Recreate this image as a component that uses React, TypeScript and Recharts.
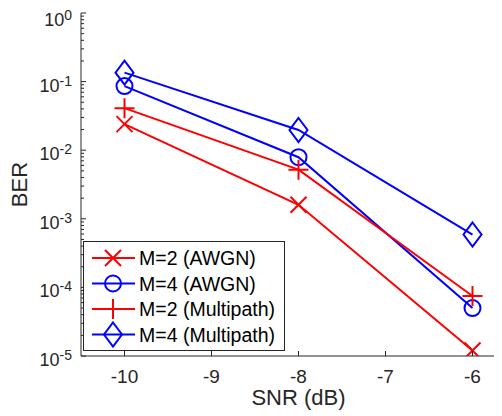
import React from 'react';
import { LineChart, Line, XAxis, YAxis, Legend } from 'recharts';

// values
const snr = [-10, -8, -6];
const berM2Awgn = [0.024, 0.0016, 1.2e-5];
const berM4Awgn = [0.086, 0.0079, 5.0e-5];
const berM2Multipath = [0.041, 0.0052, 7.5e-5];
const berM4Multipath = [0.135, 0.0197, 5.9e-4];

const xTicks = [-10, -9, -8, -7, -6];
const yMajorTicks = [1e-5, 1e-4, 1e-3, 1e-2, 1e-1, 1];

const AXIS = '#262626';
const FONT = '"Liberation Sans", Arial, sans-serif';

// log axis minor ticks (2..9 per decade)
const yTicks: number[] = [];
yMajorTicks.forEach((t, i) => {
  yTicks.push(t);
  if (i < yMajorTicks.length - 1) {
    for (let k = 2; k <= 9; k++) yTicks.push(k * t);
  }
});

const series = [
  { key: 'm2awgn', name: 'M=2 (AWGN)', color: '#ff0000', marker: 'x', values: berM2Awgn },
  { key: 'm4awgn', name: 'M=4 (AWGN)', color: '#0000ff', marker: 'o', values: berM4Awgn },
  { key: 'm2multi', name: 'M=2 (Multipath)', color: '#ff0000', marker: '+', values: berM2Multipath },
  { key: 'm4multi', name: 'M=4 (Multipath)', color: '#0000ff', marker: 'd', values: berM4Multipath },
];

const data = snr.map((s, i) => {
  const row: any = { snr: s };
  series.forEach((sr) => {
    row[sr.key] = sr.values[i];
  });
  return row;
});

const Marker = ({ type, cx, cy, color }: any) => {
  const common = { stroke: color, strokeWidth: 2, fill: 'none' };
  if (type === 'x') {
    return <path d={`M${cx - 8},${cy - 8}L${cx + 8},${cy + 8}M${cx - 8},${cy + 8}L${cx + 8},${cy - 8}`} {...common} />;
  }
  if (type === 'o') {
    return <circle cx={cx} cy={cy} r={8} {...common} />;
  }
  if (type === '+') {
    return <path d={`M${cx - 10},${cy}L${cx + 10},${cy}M${cx},${cy - 10}L${cx},${cy + 10}`} {...common} />;
  }
  return <path d={`M${cx},${cy - 12}L${cx + 9},${cy}L${cx},${cy + 12}L${cx - 9},${cy}Z`} {...common} />;
};

const YTick = ({ x, y, payload }: any) => {
  const v = payload.value;
  const lg = Math.log10(v);
  const e = Math.round(lg);
  const major = Math.abs(lg - e) < 1e-6;
  // top label sits a little lower so it stays inside the figure
  const dy = e === 0 ? 13 : 10;
  return (
    <g>
      <line x1={x} x2={x + (major ? 5 : 3)} y1={y} y2={y} stroke={AXIS} strokeWidth={1} />
      {major && (
        <text x={x - 9} y={y + dy} textAnchor="end" fill={AXIS} fontSize={18} fontFamily={FONT}>
          10
          <tspan fontSize={14} dy={-6}>{e}</tspan>
        </text>
      )}
    </g>
  );
};

const XTick = ({ x, y, payload }: any) => (
  <g>
    <line x1={x} x2={x} y1={y} y2={y - 5} stroke={AXIS} strokeWidth={1} />
    <text x={x} y={y + 27} textAnchor="middle" fill={AXIS} fontSize={19} fontFamily={FONT}>
      {payload.value}
    </text>
  </g>
);

const TopTick = ({ x, y }: any) => <line x1={x} x2={x} y1={y} y2={y + 5} stroke={AXIS} strokeWidth={1} />;

const LegendBox = () => (
  <svg width={202} height={110} style={{ display: 'block' }}>
    <rect x={0.5} y={0.5} width={201} height={109} fill="#ffffff" stroke={AXIS} strokeWidth={1} />
    {series.map((s, i) => {
      const y = 17 + i * 25.5;
      return (
        <g key={s.key}>
          <line x1={9} x2={52} y1={y} y2={y} stroke={s.color} strokeWidth={2} />
          <Marker type={s.marker} cx={30} cy={y} color={s.color} />
          <text x={56} y={y + 7} fontSize={19.5} fill="#000" fontFamily={FONT}>
            {s.name}
          </text>
        </g>
      );
    })}
  </svg>
);

export default function App() {
  return (
    <div style={{ width: 494, height: 408, overflow: 'hidden' }}>
      <LineChart width={520} height={408} data={data} margin={{ top: 5, right: 12, bottom: 0, left: 0 }}>
        <XAxis
          dataKey="snr"
          type="number"
          domain={[-10.5, -5.5]}
          ticks={xTicks}
          interval={0}
          allowDataOverflow
          height={60}
          tickSize={0}
          tickMargin={0}
          tick={<XTick />}
          stroke={AXIS}
          label={(p: any) => {
            const vb = p.viewBox;
            return (
              <text x={vb.x + vb.width / 2} y={vb.y + 49} textAnchor="middle" fill={AXIS} fontSize={22} fontFamily={FONT}>
                SNR (dB)
              </text>
            );
          }}
        />
        <XAxis
          xAxisId="top"
          orientation="top"
          dataKey="snr"
          type="number"
          domain={[-10.5, -5.5]}
          ticks={xTicks}
          interval={0}
          allowDataOverflow
          height={0}
          tickSize={0}
          tickMargin={0}
          tick={<TopTick />}
          stroke={AXIS}
        />
        <YAxis
          scale="log"
          type="number"
          domain={[1e-5, 1]}
          ticks={yTicks}
          interval={0}
          allowDataOverflow
          width={73}
          tickSize={0}
          tickMargin={0}
          tick={<YTick />}
          stroke={AXIS}
          label={(p: any) => {
            const vb = p.viewBox;
            const cy = vb.y + vb.height / 2;
            return (
              <text x={19} y={cy} textAnchor="middle" fill={AXIS} fontSize={22} fontFamily={FONT} transform={`rotate(-90 19 ${cy})`}>
                BER
              </text>
            );
          }}
        />
        {series.map((s) => (
          <Line
            key={s.key}
            dataKey={s.key}
            name={s.name}
            stroke={s.color}
            strokeWidth={2}
            isAnimationActive={false}
            dot={(p: any) => <Marker key={`${s.key}-${p.index}`} type={s.marker} cx={p.cx} cy={p.cy} color={s.color} />}
          />
        ))}
        <Legend
          layout="vertical"
          align="center"
          verticalAlign="middle"
          content={() => <LegendBox />}
          wrapperStyle={{ left: 75, top: 233, width: 202, height: 110 }}
        />
      </LineChart>
    </div>
  );
}
